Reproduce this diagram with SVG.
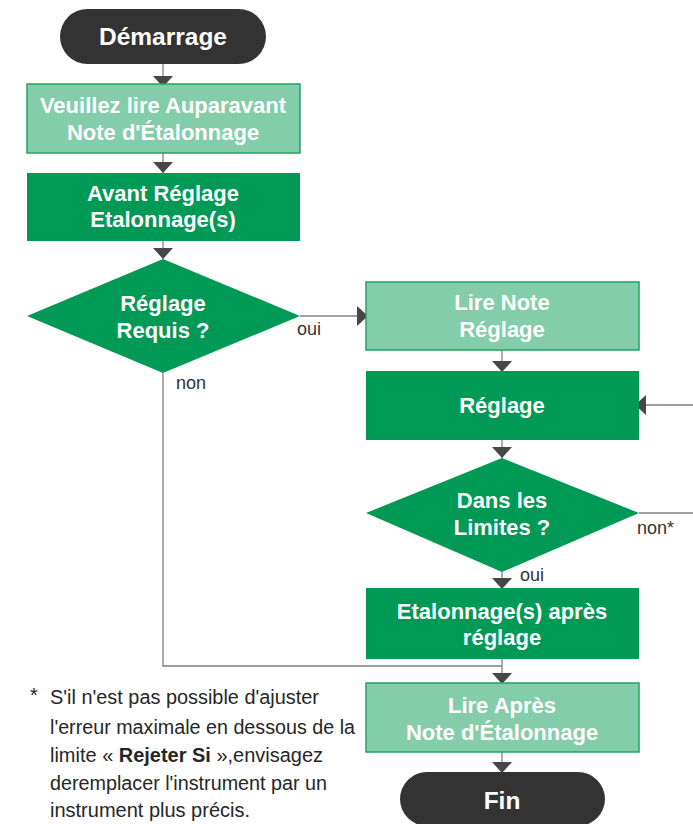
<svg xmlns="http://www.w3.org/2000/svg" width="693" height="824" viewBox="0 0 693 824">
<style>
.term{fill:#333333}
.light{fill:#84CDAA;stroke:#22A463;stroke-width:1.5}
.dark{fill:#009955}
.nt{font-family:"Liberation Sans",Arial,sans-serif;font-weight:bold;font-size:22px;fill:#ffffff;text-anchor:middle}
.tt{font-family:"Liberation Sans",Arial,sans-serif;font-weight:bold;font-size:24.5px;fill:#ffffff;text-anchor:middle}
.lbl{font-family:"Liberation Sans",Arial,sans-serif;font-size:18px;fill:#333333}
.fn{font-family:"Liberation Sans",Arial,sans-serif;font-size:20px;fill:#262626}
.ln{fill:none;stroke:#808080;stroke-width:1.3}
</style>
<defs>
<marker id="ah" markerUnits="userSpaceOnUse" markerWidth="12" markerHeight="22" refX="11" refY="10" orient="auto" viewBox="0 0 12 20">
<path d="M0,0 L11,10 L0,20 z" fill="#474747"/>
</marker>
</defs>
<rect width="693" height="824" fill="#ffffff"/>
<g id="connectors">
<path class="ln" d="M163,64 V87" marker-end="url(#ah)"/>
<path class="ln" d="M163,153 V173" marker-end="url(#ah)"/>
<path class="ln" d="M163,241 V259" marker-end="url(#ah)"/>
<path class="ln" d="M300,316 H368" marker-end="url(#ah)"/>
<path class="ln" d="M502,350 V372" marker-end="url(#ah)"/>
<path class="ln" d="M502,440 V458" marker-end="url(#ah)"/>
<path class="ln" d="M502,572 V589" marker-end="url(#ah)"/>
<path class="ln" d="M163,373 V666 H502"/>
<path class="ln" d="M502,659 V684" marker-end="url(#ah)"/>
<path class="ln" d="M502,752 V773" marker-end="url(#ah)"/>
<path class="ln" d="M693,405 H635" marker-end="url(#ah)"/>
<path class="ln" d="M639,513 H693"/>
<text class="lbl" x="297" y="335">oui</text>
<text class="lbl" x="176" y="389">non</text>
<text class="lbl" x="637" y="534">non*</text>
<text class="lbl" x="520" y="581">oui</text>
</g>
<g id="start">
<rect class="term" x="60" y="9" width="206" height="55" rx="27.5"/>
<text class="tt" x="163" y="45">Démarrage</text>
</g>
<g id="read-before">
<rect class="light" x="27" y="84" width="273" height="69"/>
<text class="nt" x="163" y="113">Veuillez lire Auparavant</text>
<text class="nt" x="163" y="140">Note d'Étalonnage</text>
</g>
<g id="before-cal">
<rect class="dark" x="27" y="173" width="273" height="68"/>
<text class="nt" x="163" y="201">Avant Réglage</text>
<text class="nt" x="163" y="227">Etalonnage(s)</text>
</g>
<g id="adj-required">
<polygon class="dark" points="163,259 300,316 163,373 27,316"/>
<text class="nt" x="163" y="311">Réglage</text>
<text class="nt" x="163" y="338">Requis ?</text>
</g>
<g id="read-adj">
<rect class="light" x="366" y="282" width="273" height="68"/>
<text class="nt" x="502" y="310">Lire Note</text>
<text class="nt" x="502" y="337">Réglage</text>
</g>
<g id="adjust">
<rect class="dark" x="366" y="371" width="273" height="69"/>
<text class="nt" x="502" y="413">Réglage</text>
</g>
<g id="in-limits">
<polygon class="dark" points="502,458 639,513 502,572 366,513"/>
<text class="nt" x="502" y="508">Dans les</text>
<text class="nt" x="502" y="535">Limites ?</text>
</g>
<g id="after-cal">
<rect class="dark" x="366" y="588" width="273" height="71"/>
<text class="nt" x="502" y="619">Etalonnage(s) après</text>
<text class="nt" x="502" y="645">réglage</text>
</g>
<g id="read-after">
<rect class="light" x="366" y="683" width="273" height="69"/>
<text class="nt" x="502" y="713">Lire Après</text>
<text class="nt" x="502" y="740">Note d'Étalonnage</text>
</g>
<g id="end">
<rect class="term" x="400" y="772" width="205" height="54" rx="27"/>
<text class="tt" x="502" y="809">Fin</text>
</g>
<g id="footnote">
<text class="fn" x="30" y="702">*</text>
<text class="fn" x="50" y="704" textLength="269" lengthAdjust="spacingAndGlyphs">S'il n'est pas possible d'ajuster</text>
<text class="fn" x="50" y="734" textLength="305" lengthAdjust="spacingAndGlyphs">l'erreur maximale en dessous de la</text>
<text class="fn" x="50" y="762" textLength="273" lengthAdjust="spacingAndGlyphs">limite « <tspan font-weight="bold">Rejeter Si</tspan> »,envisagez</text>
<text class="fn" x="50" y="790" textLength="277" lengthAdjust="spacingAndGlyphs">deremplacer l'instrument par un</text>
<text class="fn" x="50" y="817" textLength="200" lengthAdjust="spacingAndGlyphs">instrument plus précis.</text>
</g>
</svg>
